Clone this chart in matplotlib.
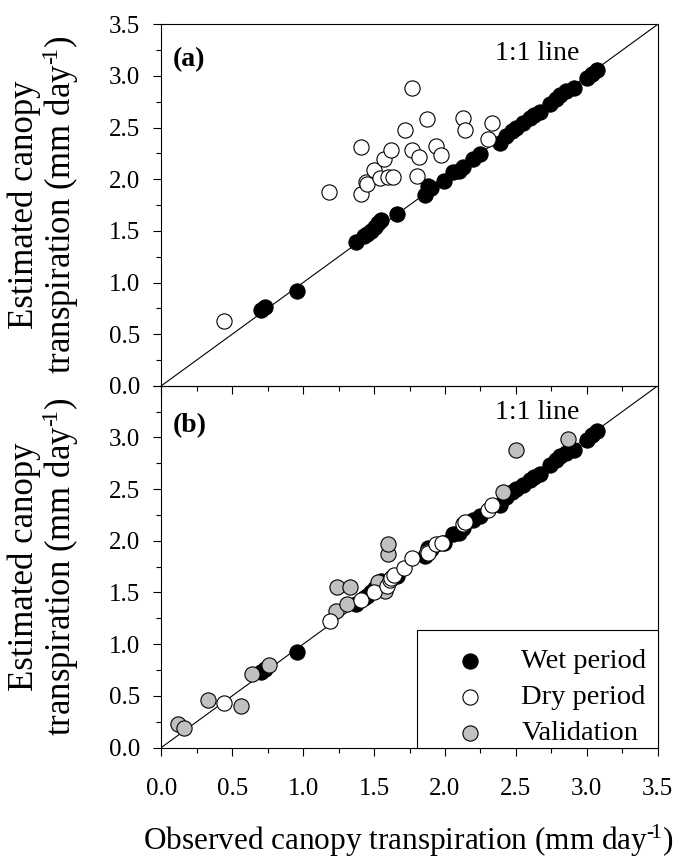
"""
Observed vs estimated canopy transpiration, two stacked panels.
(a) model as calibrated on the wet period, (b) after refit + validation set.
"""
import matplotlib
matplotlib.use("Agg")
import matplotlib.pyplot as plt
from matplotlib.patches import Rectangle
from matplotlib.ticker import MultipleLocator, FuncFormatter

plt.rcParams["font.family"] = ["Liberation Serif", "DejaVu Serif"]
plt.rcParams["mathtext.fontset"] = "custom"
plt.rcParams["mathtext.rm"] = "Liberation Serif"
plt.rcParams["mathtext.default"] = "regular"

# wet period (same in both panels), mm/day
WET_OBS = [0.70, 0.73, 0.96, 1.37, 1.43, 1.45, 1.48, 1.51, 1.53, 1.55, 1.66, 1.86,
           1.88, 1.90, 1.99, 2.06, 2.10, 2.13, 2.20, 2.25, 2.39, 2.43, 2.47, 2.50,
           2.55, 2.60, 2.63, 2.67, 2.74, 2.78, 2.81, 2.85, 2.91, 3.00, 3.04, 3.07]
WET_EST = [0.73, 0.76, 0.92, 1.39, 1.45, 1.47, 1.50, 1.54, 1.58, 1.61, 1.66, 1.85,
           1.93, 1.92, 1.98, 2.07, 2.08, 2.12, 2.20, 2.24, 2.35, 2.42, 2.47, 2.50,
           2.54, 2.59, 2.62, 2.65, 2.73, 2.78, 2.82, 2.85, 2.88, 2.98, 3.02, 3.06]

# dry period, panel (a)
DRY_OBS_A = [0.44, 1.18, 1.41, 1.41, 1.44, 1.45, 1.50, 1.54, 1.57, 1.60, 1.63, 1.62,
             1.72, 1.77, 1.77, 1.80, 1.82, 1.87, 1.94, 1.97, 2.13, 2.14, 2.30, 2.33]
DRY_EST_A = [0.63, 1.88, 1.86, 2.31, 1.97, 1.95, 2.09, 2.01, 2.20, 2.02, 2.02, 2.28,
             2.48, 2.88, 2.28, 2.03, 2.22, 2.58, 2.32, 2.23, 2.59, 2.48, 2.39, 2.54]

# dry period, panel (b)
DRY_OBS_B = [0.44, 1.19, 1.41, 1.50, 1.59, 1.61, 1.62, 1.64, 1.71, 1.77, 1.87, 1.88,
             1.94, 1.98, 2.13, 2.14, 2.30, 2.33]
DRY_EST_B = [0.43, 1.22, 1.43, 1.50, 1.56, 1.62, 1.64, 1.67, 1.74, 1.83, 1.89, 1.88,
             1.97, 1.98, 2.16, 2.18, 2.30, 2.35]

# validation, panel (b)
VAL_OBS = [0.12, 0.16, 0.33, 0.56, 0.64, 0.76, 1.23, 1.24, 1.31, 1.33, 1.53, 1.58,
           1.60, 1.60, 2.41, 2.50, 2.87]
VAL_EST = [0.23, 0.19, 0.46, 0.40, 0.71, 0.80, 1.32, 1.55, 1.39, 1.55, 1.60, 1.51,
           1.87, 1.97, 2.47, 2.88, 2.99]

LIM = 3.5
GRAY = "#c0c0c0"
MS = 120
UNIT = "(mm day$^{\u2010\\!1}$)"


def dot(ax, x, y, face, z):
    return ax.scatter(x, y, s=MS, c=face, edgecolors="black", linewidths=0.8,
                      zorder=z, clip_on=False)


def style(ax, xlabels, top_label):
    ax.set_xlim(0, LIM); ax.set_ylim(0, LIM)
    ax.xaxis.set_major_locator(MultipleLocator(0.5))
    ax.xaxis.set_minor_locator(MultipleLocator(0.25))
    ax.yaxis.set_major_locator(MultipleLocator(0.5))
    ax.yaxis.set_minor_locator(MultipleLocator(0.25))
    ax.tick_params(which="both", direction="out", top=False, right=False,
                   labelsize=18, width=0.8)
    ax.tick_params(axis="y", which="both", pad=9)
    ax.tick_params(axis="x", which="both", pad=16)
    ax.tick_params(which="major", length=6)
    ax.tick_params(which="minor", length=3.5)
    ax.yaxis.set_major_formatter(FuncFormatter(
        lambda v, p: "" if (v > 3.4 and not top_label) else f"{v:.1f}"))
    if xlabels:
        ax.xaxis.set_major_formatter(FuncFormatter(lambda v, p: f"{v:.1f}"))
    else:
        ax.tick_params(axis="x", labelbottom=False)
    for s in ax.spines.values():
        s.set_linewidth(0.8)
    ax.axline((0, 0), slope=1, color="black", lw=0.8, zorder=2)


def main():
    fig = plt.figure(figsize=(6.93, 8.6), dpi=100)
    ax_a = fig.add_axes([0.2328, 0.5514, 0.7163, 0.4203])
    ax_b = fig.add_axes([0.2328, 0.1308, 0.7163, 0.4206])
    ax_b.patch.set_visible(False)

    # panel (a)
    style(ax_a, False, True)
    dot(ax_a, WET_OBS, WET_EST, "black", 3)
    dot(ax_a, DRY_OBS_A, DRY_EST_A, "white", 4)
    ax_a.text(0.024, 0.885, "(a)", transform=ax_a.transAxes, fontsize=20,
              fontweight="bold", va="baseline")
    ax_a.text(0.672, 0.902, "1:1 line", transform=ax_a.transAxes, fontsize=20,
              va="baseline")

    # panel (b)
    style(ax_b, True, False)
    h_wet = dot(ax_b, WET_OBS, WET_EST, "black", 3)
    h_val = dot(ax_b, VAL_OBS, VAL_EST, GRAY, 4)
    h_dry = dot(ax_b, DRY_OBS_B, DRY_EST_B, "white", 5)
    ax_b.text(0.024, 0.872, "(b)", transform=ax_b.transAxes, fontsize=20,
              fontweight="bold", va="baseline")
    ax_b.text(0.672, 0.907, "1:1 line", transform=ax_b.transAxes, fontsize=20,
              va="baseline")

    # legend box drawn separately so the entries can sit a little low in it
    ax_b.add_patch(Rectangle((0.515, 0), 0.485, 0.325, transform=ax_b.transAxes,
                             facecolor="white", edgecolor="black", lw=0.8,
                             zorder=9, clip_on=False))
    leg = ax_b.legend([h_wet, h_dry, h_val], ["Wet period", "Dry period", "Validation"],
                      loc="lower right", bbox_to_anchor=(1.0, -0.028), borderaxespad=0,
                      fontsize=20.5, frameon=False, borderpad=0.4, labelspacing=0.35,
                      handlelength=2.8, handletextpad=0.4, scatterpoints=1)
    leg.set_zorder(10)

    ylab = "Estimated canopy\ntranspiration " + UNIT
    for ax in (ax_a, ax_b):
        pos = ax.get_position()
        fig.text(0.064, pos.y0 + pos.height / 2, ylab, rotation=90, fontsize=25,
                 ha="center", va="center", multialignment="center", linespacing=1.0)
    fig.text(408 / 693, 1 - 850 / 860, "Observed canopy transpiration " + UNIT,
             fontsize=22.5, ha="center", va="baseline")

    fig.savefig("out.png", dpi=100, facecolor="white")
    plt.close(fig)


if __name__ == "__main__":
    main()
